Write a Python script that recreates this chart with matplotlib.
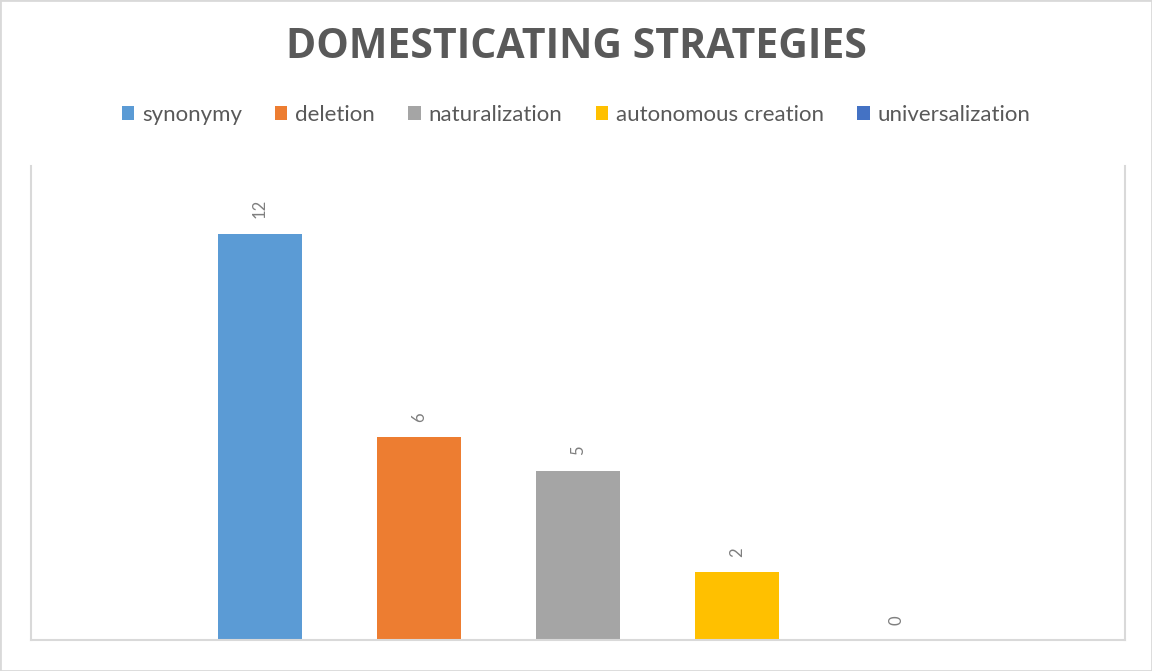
import matplotlib.pyplot as plt
from matplotlib.patches import Rectangle

# Domesticating strategies counts, one bar per strategy
strategies = ["synonymy", "deletion", "naturalization", "autonomous creation", "universalization"]
counts = [12, 6, 5, 2, 0]
colors = ["#5B9BD5", "#ED7D31", "#A5A5A5", "#FFC000", "#4472C4"]

plt.rcParams["font.family"] = ["Lato", "DejaVu Sans"]

fig = plt.figure(figsize=(11.52, 6.71), dpi=100)
ax = fig.add_axes([31 / 1152, 1 - 640 / 671, (1125 - 31) / 1152, (640 - 166) / 671])

bars = []
for i, (name, val, col) in enumerate(zip(strategies, counts, colors)):
    b = ax.bar(i, val, width=0.53, color=col, label=name)
    ax.bar_label(b, labels=[str(val)], rotation=90, padding=11, fontsize=12, color="#7F7F7F")
    bars.append(b)

ax.set_xlim(-1.44, 5.44)
ax.set_ylim(0, 14)
ax.set_xticks([])
ax.set_yticks([])
ax.spines["top"].set_visible(False)
for s in ["left", "right", "bottom"]:
    ax.spines[s].set_color("#D9D9D9")
    ax.spines[s].set_linewidth(1.5)

# title
fig.text(0.5, 1 - 48 / 671, "DOMESTICATING STRATEGIES", ha="center", va="center",
         fontsize=29.5, fontweight="bold", color="#595959", family=["Open Sans", "DejaVu Sans"])

# legend
fig.legend(handles=bars, labels=strategies, loc="center", bbox_to_anchor=(0.5, 1 - 115 / 671),
           ncol=5, frameon=False, fontsize=16, labelcolor="#595959",
           handlelength=0.55, handleheight=0.55, handletextpad=0.36, columnspacing=1.5)

# chart border
fig.patches.append(Rectangle((0, 0), 1, 1, transform=fig.transFigure, fill=False,
                             edgecolor="#D9D9D9", linewidth=2))

fig.savefig("out.png", dpi=100)
